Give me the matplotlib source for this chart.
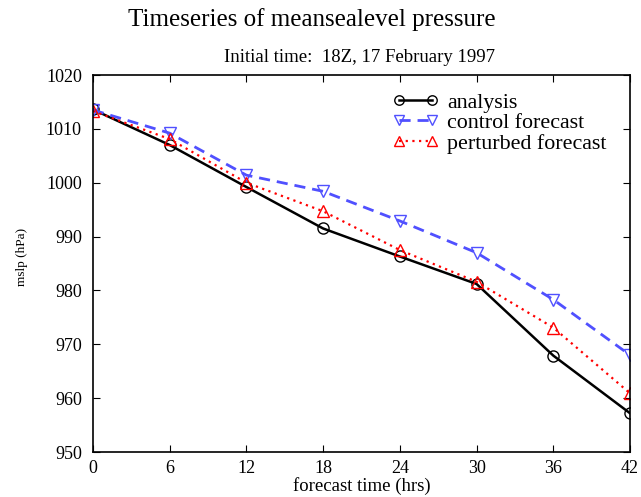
import matplotlib
matplotlib.use("Agg")
import matplotlib.pyplot as plt

plt.rcParams['font.family'] = ['Liberation Serif', 'DejaVu Serif']

# forecast hours and mslp values (hPa)
hours = [0, 6, 12, 18, 24, 30, 36, 42]
analysis = [1013.6, 1007.0, 999.2, 991.5, 986.3, 981.2, 967.9, 957.2]
control = [1013.5, 1009.2, 1001.4, 998.4, 992.9, 987.0, 978.3, 968.0]
perturbed = [1013.3, 1008.1, 1000.0, 994.7, 987.5, 981.6, 973.1, 960.9]

fig = plt.figure(figsize=(6.41, 4.97), dpi=100)
ax = fig.add_axes([93/641, 1 - 452/497, (630 - 93)/641, (452 - 75)/497])

ax.plot(hours, analysis, color='black', lw=1.8, marker='o', ms=8,
        mfc='none', mec='black', mew=1, label='analysis')
ax.plot(hours, control, color='#5050ff', lw=2, ls=(0, (4, 2.5)), marker='v', ms=8,
        mfc='none', mec='#5050ff', mew=1, label='control forecast')
ax.plot(hours, perturbed, color='red', lw=1.6, ls=(0, (1, 2)), marker='^', ms=8,
        mfc='none', mec='red', mew=1, label='perturbed forecast')

ax.set_xlim(0, 42)
ax.set_ylim(950, 1020)
ax.set_xticks(hours)
ax.set_yticks(range(950, 1021, 10))
ax.tick_params(direction='in', top=True, right=True, labelsize=13, length=5)
ax.tick_params(axis='y', pad=8)
ax.tick_params(axis='x', pad=6)
for s in ax.spines.values():
    s.set_linewidth(1.2)

ax.set_xlabel('forecast time (hrs)', fontsize=13.5, labelpad=0)
ax.set_ylabel('mslp (hPa)', fontsize=9.5)
ax.yaxis.set_label_coords(-(93 - 28)/537, (452 - 257)/377)

fig.text(312/641, 1 - 20/497, 'Timeseries of meansealevel pressure', ha='center', va='center', fontsize=18)
fig.text(360/641, 1 - 57/497, 'Initial time:  18Z, 17 February 1997', ha='center', va='center', fontsize=13.5)

leg = ax.legend(loc='upper right', bbox_to_anchor=(0.973, 0.977), frameon=False, numpoints=2,
                handlelength=2.1, fontsize=15.8, labelspacing=0.0, handletextpad=0.4,
                borderaxespad=0.0, markerscale=0.85)

fig.savefig('out.png', dpi=100)
